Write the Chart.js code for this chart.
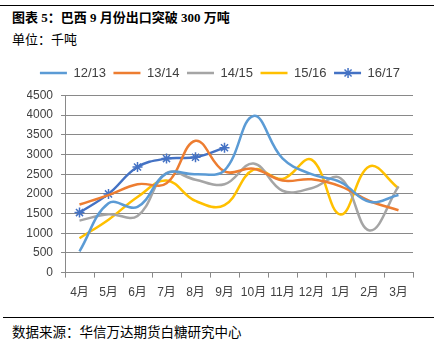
<!DOCTYPE html>
<html>
<head>
<meta charset="utf-8">
<script src="https://cdn.jsdelivr.net/npm/chart.js@4.4.1/dist/chart.umd.min.js"></script>
<style>
  body { margin: 0; width: 446px; height: 345px; background: #fff; position: relative; overflow: hidden; }
  .rule { position: absolute; left: 0; width: 434px; height: 1px; background: #000; }
  #title { position: absolute; left: 12px; top: 7px; font: bold 13px "Liberation Serif", "Noto Sans CJK SC"; color: #000; white-space: nowrap; }
  #unit { position: absolute; left: 12px; top: 29px; font: 13px "Noto Sans CJK SC"; color: #000; }
  #source { position: absolute; left: 12px; top: 321px; font: 13.5px "Noto Sans CJK SC"; color: #000; white-space: nowrap; }
  #wrap { position: absolute; left: 0; top: 50px; }
</style>
</head>
<body>
<div class="rule" style="top:5px"></div>
<div id="title">图表 5：巴西 9 月份出口突破 300 万吨</div>
<div id="unit">单位：千吨</div>
<div id="wrap"><canvas id="lineChart" width="446" height="258"></canvas></div>
<div class="rule" style="top:317px;left:3px;width:431px"></div>
<div id="source">数据来源：华信万达期货白糖研究中心</div>
<script>
const months = ['4月', '5月', '6月', '7月', '8月', '9月', '10月', '11月', '12月', '1月', '2月', '3月'];
const seasons = ['12/13', '13/14', '14/15', '15/16', '16/17'];
const s1213 = [540, 1760, 1670, 2520, 2500, 2600, 3980, 2900, 2500, 2300, 1800, 1970];
const s1314 = [1730, 1970, 2245, 2270, 3350, 2570, 2640, 2340, 2370, 2190, 1820, 1585];
const s1415 = [1320, 1483, 1440, 2530, 2360, 2245, 2770, 2080, 2143, 2400, 1070, 2190];
const s1516 = [874, 1345, 1920, 2340, 1820, 1714, 2614, 2380, 2870, 1474, 2700, 2143];
const s1617 = [1525, 2000, 2682, 2897, 2931, 3171];
const yMax = 4500;
const yStep = 500;

const colors = ['#5B9BD5', '#ED7D31', '#A5A5A5', '#FFC000', '#4472C4'];
const series = [s1213, s1314, s1415, s1516, s1617];
const tickFont = { family: '"Liberation Sans", "Noto Sans CJK SC"', size: 12 };

// legend item for 16/17 shows line + star marker; legend box made a bit taller
const legendStar = {
  id: 'legendStar',
  afterInit(chart) {
    const lg = chart.legend;
    if (!lg) return;
    const fit = lg.fit;
    lg.fit = function () { fit.call(this); this.height += 6; };
  },
  afterDraw(chart) {
    const boxes = chart.legend && chart.legend.legendHitBoxes;
    if (!boxes || !boxes[4]) return;
    const b = boxes[4];
    const ctx = chart.ctx;
    ctx.save();
    ctx.strokeStyle = colors[4];
    ctx.lineWidth = 1.5;
    Chart.helpers.drawPoint(ctx, { pointStyle: 'star', radius: 5, rotation: 0, borderWidth: 1.5 }, b.left + 14, b.top + b.height / 2);
    ctx.restore();
  }
};

new Chart(document.getElementById('lineChart'), {
  type: 'line',
  data: {
    labels: months,
    datasets: series.map((d, i) => ({
      label: seasons[i],
      data: d,
      borderColor: colors[i],
      backgroundColor: colors[i],
      borderWidth: 2.5,
      tension: 0.4,
      fill: false,
      pointStyle: i === 4 ? 'star' : 'circle',
      pointRadius: i === 4 ? 5 : 0,
      pointBorderWidth: 1.5,
      pointBorderColor: colors[i]
    }))
  },
  options: {
    responsive: false,
    animation: false,
    layout: { padding: { left: 27, right: 33, top: 9, bottom: 0 } },
    plugins: {
      tooltip: { enabled: false },
      legend: {
        position: 'top',
        labels: {
          usePointStyle: true,
          pointStyleWidth: 27,
          padding: 7.5,
          color: '#404040',
          font: { family: '"Liberation Sans"', size: 13 },
          generateLabels(chart) {
            return chart.data.datasets.map((ds, i) => ({
              text: ds.label,
              strokeStyle: ds.borderColor,
              fillStyle: ds.borderColor,
              lineWidth: 2.5,
              pointStyle: 'line',
              datasetIndex: i,
              hidden: false,
              fontColor: '#404040'
            }));
          }
        }
      }
    },
    scales: {
      x: {
        offset: true,
        grid: { offset: true, drawOnChartArea: false, color: '#898989', tickLength: 5 },
        border: { color: '#898989' },
        ticks: { color: '#404040', font: tickFont, padding: 8, maxRotation: 0, autoSkip: false }
      },
      y: {
        min: 0,
        max: yMax,
        afterFit(scale) { scale.width = 38; },
        grid: { color: '#898989', tickLength: 4 },
        border: { color: '#898989' },
        ticks: { stepSize: yStep, color: '#404040', font: tickFont, padding: 8, callback: v => String(v) }
      }
    }
  },
  plugins: [legendStar]
});
</script>
</body>
</html>
